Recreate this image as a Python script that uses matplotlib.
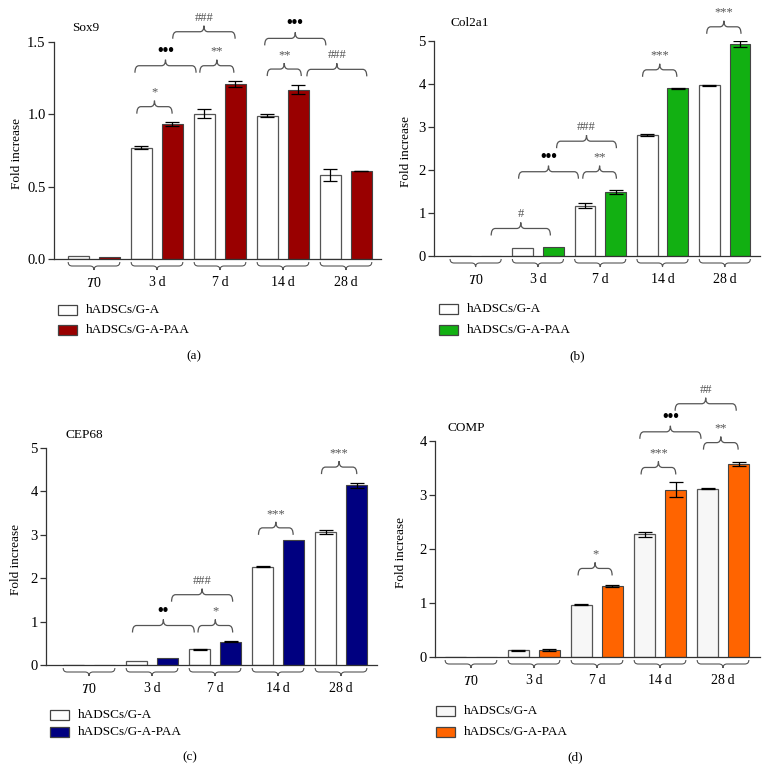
import matplotlib
matplotlib.use('Agg')
import matplotlib.pyplot as plt
from matplotlib.path import Path
from matplotlib.patches import PathPatch, Rectangle
import numpy as np

W, H = 769, 772
plt.rcParams['font.family'] = ['Liberation Serif', 'DejaVu Serif']
plt.rcParams['mathtext.fontset'] = 'stix'

groups = ['$T$0', '3\u2009d', '7\u2009d', '14\u2009d', '28\u2009d']
legend_labels = ['hADSCs/G-A', 'hADSCs/G-A-PAA']
panel_letters = ['(a)', '(b)', '(c)', '(d)']
genes = ['Sox9', 'Col2a1', 'CEP68', 'COMP']

sox9_ga = [0.018, 0.77, 1.005, 0.99, 0.58]
sox9_ga_err = [0.0, 0.01, 0.03, 0.01, 0.04]
sox9_paa = [0.016, 0.935, 1.21, 1.17, 0.608]
sox9_paa_err = [0.0, 0.015, 0.02, 0.03, 0.003]

col2a1_ga = [0.0, 0.18, 1.17, 2.82, 3.97]
col2a1_ga_err = [0.0, 0.0, 0.06, 0.02, 0.01]
col2a1_paa = [0.0, 0.21, 1.49, 3.90, 4.92]
col2a1_paa_err = [0.0, 0.0, 0.04, 0.01, 0.07]

cep68_ga = [0.0, 0.085, 0.36, 2.26, 3.06]
cep68_ga_err = [0.0, 0.0, 0.02, 0.01, 0.05]
cep68_paa = [0.0, 0.16, 0.54, 2.87, 4.14]
cep68_paa_err = [0.0, 0.0, 0.02, 0.0, 0.06]

comp_ga = [0.0, 0.125, 0.97, 2.27, 3.12]
comp_ga_err = [0.0, 0.005, 0.005, 0.04, 0.005]
comp_paa = [0.0, 0.135, 1.32, 3.10, 3.57]
comp_paa_err = [0.0, 0.015, 0.02, 0.14, 0.04]

# significance brackets: (x_start, x_end, y_of_bracket, label)
sox9_sig = [(0.68, 1.24, 1.053, '*'), (0.65, 1.62, 1.336, '\u2022\u2022\u2022'),
            (1.68, 2.22, 1.336, '**'), (1.25, 2.24, 1.571, '###'),
            (2.75, 3.29, 1.313, '**'), (2.71, 3.68, 1.525, '\u2022\u2022\u2022'),
            (3.38, 4.33, 1.311, '###')]
col2a1_sig = [(0.25, 1.20, 0.64, '#'), (0.69, 1.65, 1.96, '\u2022\u2022\u2022'),
              (1.72, 2.26, 1.96, '**'), (1.30, 2.26, 2.67, '###'),
              (2.68, 3.23, 4.33, '***'), (3.71, 4.26, 5.33, '***')]
cep68_sig = [(0.69, 1.67, 0.91, '\u2022\u2022'), (1.73, 2.28, 0.91, '*'),
             (1.31, 2.28, 1.62, '###'), (2.69, 3.24, 3.16, '***'),
             (3.69, 4.25, 4.56, '***')]
comp_sig = [(1.70, 2.24, 1.64, '*'), (2.70, 3.25, 3.51, '***'),
            (2.68, 3.65, 4.17, '\u2022\u2022\u2022'), (3.69, 4.24, 3.97, '**'),
            (3.24, 4.21, 4.69, '##')]

panels = [
    dict(ga=sox9_ga, gae=sox9_ga_err, paa=sox9_paa, paae=sox9_paa_err, sig=sox9_sig,
         color='#990000', ga_fill='white', box=(54, 42, 381, 259), xlim=(-0.635, 4.556),
         ylim=1.5, ticks=[0, 0.5, 1.0, 1.5], tl=['0.0', '0.5', '1.0', '1.5'],
         gene_xy=(72, 28), ylab_x=17, leg=(58, 310, 330), letter_xy=(194, 356)),
    dict(ga=col2a1_ga, gae=col2a1_ga_err, paa=col2a1_paa, paae=col2a1_paa_err, sig=col2a1_sig,
         color='#12b012', ga_fill='white', box=(434, 41, 760, 256), xlim=(-0.668, 4.565),
         ylim=5, ticks=[0, 1, 2, 3, 4, 5], tl=['0', '1', '2', '3', '4', '5'],
         gene_xy=(450, 23), ylab_x=406, leg=(439, 309, 330), letter_xy=(577, 356)),
    dict(ga=cep68_ga, gae=cep68_ga_err, paa=cep68_paa, paae=cep68_paa_err, sig=cep68_sig,
         color='#000080', ga_fill='white', box=(46, 448, 377, 665), xlim=(-0.683, 4.571),
         ylim=5, ticks=[0, 1, 2, 3, 4, 5], tl=['0', '1', '2', '3', '4', '5'],
         gene_xy=(66, 435), ylab_x=16, leg=(50, 715, 732), letter_xy=(190, 757)),
    dict(ga=comp_ga, gae=comp_ga_err, paa=comp_paa, paae=comp_paa_err, sig=comp_sig,
         color='#ff6400', ga_fill='#f7f7f7', box=(435, 441, 760, 657), xlim=(-0.571, 4.587),
         ylim=4, ticks=[0, 1, 2, 3, 4], tl=['0', '1', '2', '3', '4'],
         gene_xy=(448, 428), ylab_x=401, leg=(436, 711, 732), letter_xy=(575, 757)),
]

fig = plt.figure(figsize=(W / 100, H / 100), dpi=100)

def fx(px):
    return px / W

def fy(py):
    return 1 - py / H

def d2p(ax, x, y):
    d = ax.transData.transform((x, y))
    return d[0], H - d[1]

def brace(px1, px2, py, up=True, hook=7, peak=6, r=4, color='#555555', lw=0.9):
    # pixel coords (origin top-left); up=True -> peak points up
    s = -1 if up else 1
    xm = (px1 + px2) / 2
    pts = [(px1, py - s * hook), (px1, py), (px1 + r, py), (xm - r, py),
           (xm, py), (xm, py + s * peak), (xm, py), (xm + r, py),
           (px2 - r, py), (px2, py), (px2, py - s * hook)]
    codes = [Path.MOVETO, Path.CURVE3, Path.CURVE3, Path.LINETO,
             Path.CURVE3, Path.CURVE3, Path.CURVE3, Path.CURVE3,
             Path.LINETO, Path.CURVE3, Path.CURVE3]
    verts = [(fx(a), fy(b)) for a, b in pts]
    fig.add_artist(PathPatch(Path(verts, codes), transform=fig.transFigure,
                             facecolor='none', edgecolor=color, lw=lw))
    return xm, py + s * peak

bw = 0.333
off = 0.246
x = np.arange(len(groups))

for p, gene, letter in zip(panels, genes, panel_letters):
    l, t, r_, b = p['box']
    ax = fig.add_axes([fx(l), fy(b), fx(r_ - l), (b - t) / H])
    ax.set_xlim(*p['xlim'])
    ax.set_ylim(0, p['ylim'])
    for sp in ['top', 'right']:
        ax.spines[sp].set_visible(False)
    for sp in ['left', 'bottom']:
        ax.spines[sp].set_color('#333333')
        ax.spines[sp].set_linewidth(0.9)
    ax.set_xticks([])
    ax.set_yticks(p['ticks'])
    ax.set_yticklabels(p['tl'], fontsize=10.5)
    ax.tick_params(axis='y', length=4, width=0.9, pad=2, color='#333333')
    ax.patch.set_alpha(0)

    ax.bar(x - off, p['ga'], width=bw, color=p['ga_fill'], edgecolor='#555555', lw=0.9, zorder=2)
    ax.bar(x + off, p['paa'], width=bw, color=p['color'], edgecolor='#444444', lw=0.8, zorder=2)
    for xi, v, e in zip(x - off, p['ga'], p['gae']):
        if e > 0:
            ax.errorbar(xi, v, yerr=e, fmt='none', ecolor='black', elinewidth=0.9,
                        capsize=5, capthick=0.9, zorder=3)
    for xi, v, e in zip(x + off, p['paa'], p['paae']):
        if e > 0:
            ax.errorbar(xi, v, yerr=e, fmt='none', ecolor='black', elinewidth=0.9,
                        capsize=5, capthick=0.9, zorder=3)

    fig.text(fx(p['ylab_x']), fy((t + b) / 2 + 3), 'Fold increase', rotation=90,
             ha='center', va='center', fontsize=9.5)

    # group braces and labels under axis
    for gi, g in enumerate(groups):
        px1, _ = d2p(ax, gi - 0.41, 0)
        px2, _ = d2p(ax, gi + 0.41, 0)
        brace(px1, px2, b + 7, up=False, hook=4, peak=4, r=4, color='#555555', lw=0.8)
        cx, _ = d2p(ax, gi, 0)
        fig.text(fx(cx), fy(b + 24), g, ha='center', va='center', fontsize=10)

    # significance braces
    for (x1, x2, yv, lab) in p['sig']:
        px1, py = d2p(ax, x1, yv)
        px2, _ = d2p(ax, x2, yv)
        xm, ypk = brace(px1, px2, py, up=True)
        if '\u2022' in lab:
            fig.text(fx(xm), fy(ypk - 9), lab, ha='center', va='center', fontsize=11.5,
                     color='black', fontweight='bold')
        else:
            fig.text(fx(xm), fy(ypk - 8), lab, ha='center', va='center', fontsize=9,
                     color='#555555')

    fig.text(fx(p['gene_xy'][0]), fy(p['gene_xy'][1]), gene, ha='left', va='center', fontsize=9.5)

    lx, ly1, ly2 = p['leg']
    for yy, fc in [(ly1, p['ga_fill']), (ly2, p['color'])]:
        fig.add_artist(Rectangle((fx(lx), fy(yy + 5)), 19 / W, 10 / H, transform=fig.transFigure,
                                 facecolor=fc, edgecolor='#444444', lw=0.9))
    fig.text(fx(lx + 28), fy(ly1), legend_labels[0], ha='left', va='center', fontsize=9.5)
    fig.text(fx(lx + 28), fy(ly2), legend_labels[1], ha='left', va='center', fontsize=9.5)
    fig.text(fx(p['letter_xy'][0]), fy(p['letter_xy'][1]), letter, ha='center', va='center', fontsize=9.5)

fig.savefig('out.png', dpi=100)
